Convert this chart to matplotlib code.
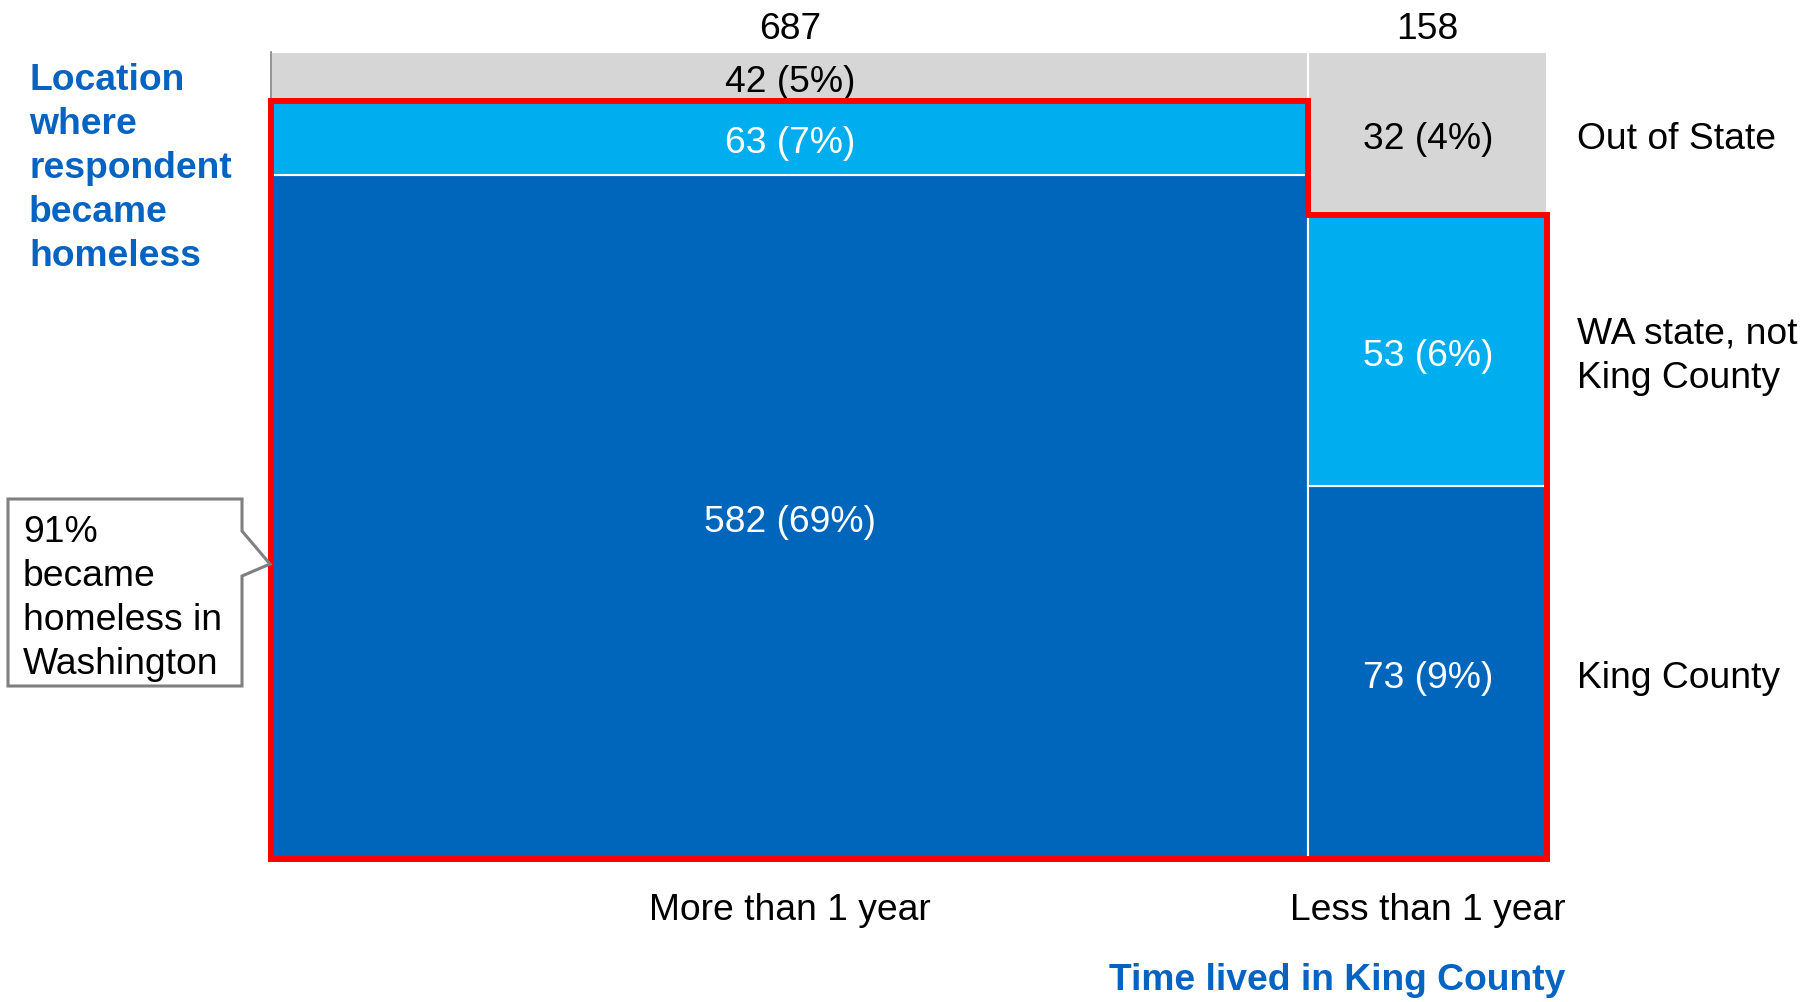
import matplotlib.pyplot as plt
from matplotlib.patches import Polygon
import matplotlib.transforms as mtransforms

plt.rcParams['font.family'] = ['Liberation Sans', 'DejaVu Sans']

# 数据：按在King County居住时间分列，按成为无家可归者的地点分段
columns = ["More than 1 year", "Less than 1 year"]
locations = ["King County", "WA state, not\nKing County", "Out of State"]
king_county = [582, 73]
wa_not_king = [63, 53]
out_of_state = [42, 32]

seg_colors = ["#0066BB", "#00ADEE", "#D6D6D6"]
seg_text = ["white", "white", "black"]
blue_txt = "#0563C1"

W, H = 1807, 1003
fig = plt.figure(figsize=(W / 100, H / 100), dpi=100)
ax = fig.add_axes([271 / W, 1 - 860 / H, 1276 / W, 807 / H])

fs = 26.8
ls = 1.33
# 文字整体向下微调几个像素
dy = -4.5
t_data = mtransforms.offset_copy(ax.transData, fig=fig, y=dy, units='dots')
t_fig = mtransforms.offset_copy(fig.transFigure, fig=fig, y=dy, units='dots')

series = [king_county, wa_not_king, out_of_state]
col_tot = [sum(s[i] for s in series) for i in range(len(columns))]
grand = sum(col_tot)

lefts = []
x0 = 0
for t in col_tot:
    lefts.append(x0)
    x0 += t

# 马赛克图：宽度=列合计，高度=列内占比
bounds = {}
for i, name in enumerate(columns):
    bottom = 0.0
    for j, s in enumerate(series):
        h = s[i] / col_tot[i]
        ax.bar(lefts[i], h, width=col_tot[i], bottom=bottom, align='edge',
               color=seg_colors[j], edgecolor='white', linewidth=1.5)
        pct = round(s[i] / grand * 100)
        ax.text(lefts[i] + col_tot[i] / 2, bottom + h / 2, f"{s[i]} ({pct}%)",
                ha='center', va='center', fontsize=fs, color=seg_text[j],
                transform=t_data)
        bounds[(i, j)] = (bottom, bottom + h)
        bottom += h
    cx = lefts[i] + col_tot[i] / 2
    ax.text(cx, 1.035, f"{col_tot[i]}", ha='center', va='center', fontsize=fs,
            transform=t_data)
    ax.text(cx, -0.057, name, ha='center', va='center', fontsize=fs,
            transform=t_data)

# 右侧分类标签，对齐最后一列的各段中心
trans = mtransforms.blended_transform_factory(ax.transAxes, t_data)
last = len(columns) - 1
for j, lab in enumerate(locations):
    b0, b1 = bounds[(last, j)]
    ax.text(1.0235, (b0 + b1) / 2, lab, transform=trans, ha='left', va='center',
            fontsize=fs, linespacing=ls)

# 红框：华盛顿州内（King County + 州内其他）
top_l = bounds[(0, 1)][1]
top_r = bounds[(1, 1)][1]
red = [(0, 0), (0, top_l), (lefts[1], top_l), (lefts[1], top_r),
       (grand, top_r), (grand, 0)]
ax.add_patch(Polygon(red, closed=True, fill=False, edgecolor='#FF0000',
                     linewidth=4.3, joinstyle='miter', clip_on=False, zorder=5))

ax.set_xlim(0, grand)
ax.set_ylim(0, 1)
ax.set_xticks([])
ax.set_yticks([])
for sp in ['top', 'right', 'bottom']:
    ax.spines[sp].set_visible(False)
ax.spines['left'].set_color('#808080')
ax.spines['left'].set_linewidth(1.2)

# 坐标轴标题
fig.text(29 / W, 1 - 164 / H, "Location\nwhere\nrespondent\nbecame\nhomeless",
         ha='left', va='center', fontsize=fs, fontweight='bold', color=blue_txt,
         linespacing=ls, transform=t_fig)
fig.text(1565 / W, 1 - 976 / H, "Time lived in King County", ha='right', va='center',
         fontsize=fs, fontweight='bold', color=blue_txt, transform=t_fig)

# 左侧说明框
box = [(8, 500), (242, 500), (242, 532), (270, 565), (242, 577), (242, 687), (8, 687)]
box = [(x / W, 1 - y / H) for x, y in box]
fig.add_artist(Polygon(box, closed=True, facecolor='white', edgecolor='#808080',
                       linewidth=2.2, transform=fig.transFigure))
wa_pct = round((sum(king_county) + sum(wa_not_king)) / grand * 100)
fig.text(23 / W, 1 - 594 / H, f"{wa_pct}%\nbecame\nhomeless in\nWashington",
         ha='left', va='center', fontsize=fs, linespacing=ls, transform=t_fig)

fig.savefig("out.png", dpi=100, facecolor='white')
